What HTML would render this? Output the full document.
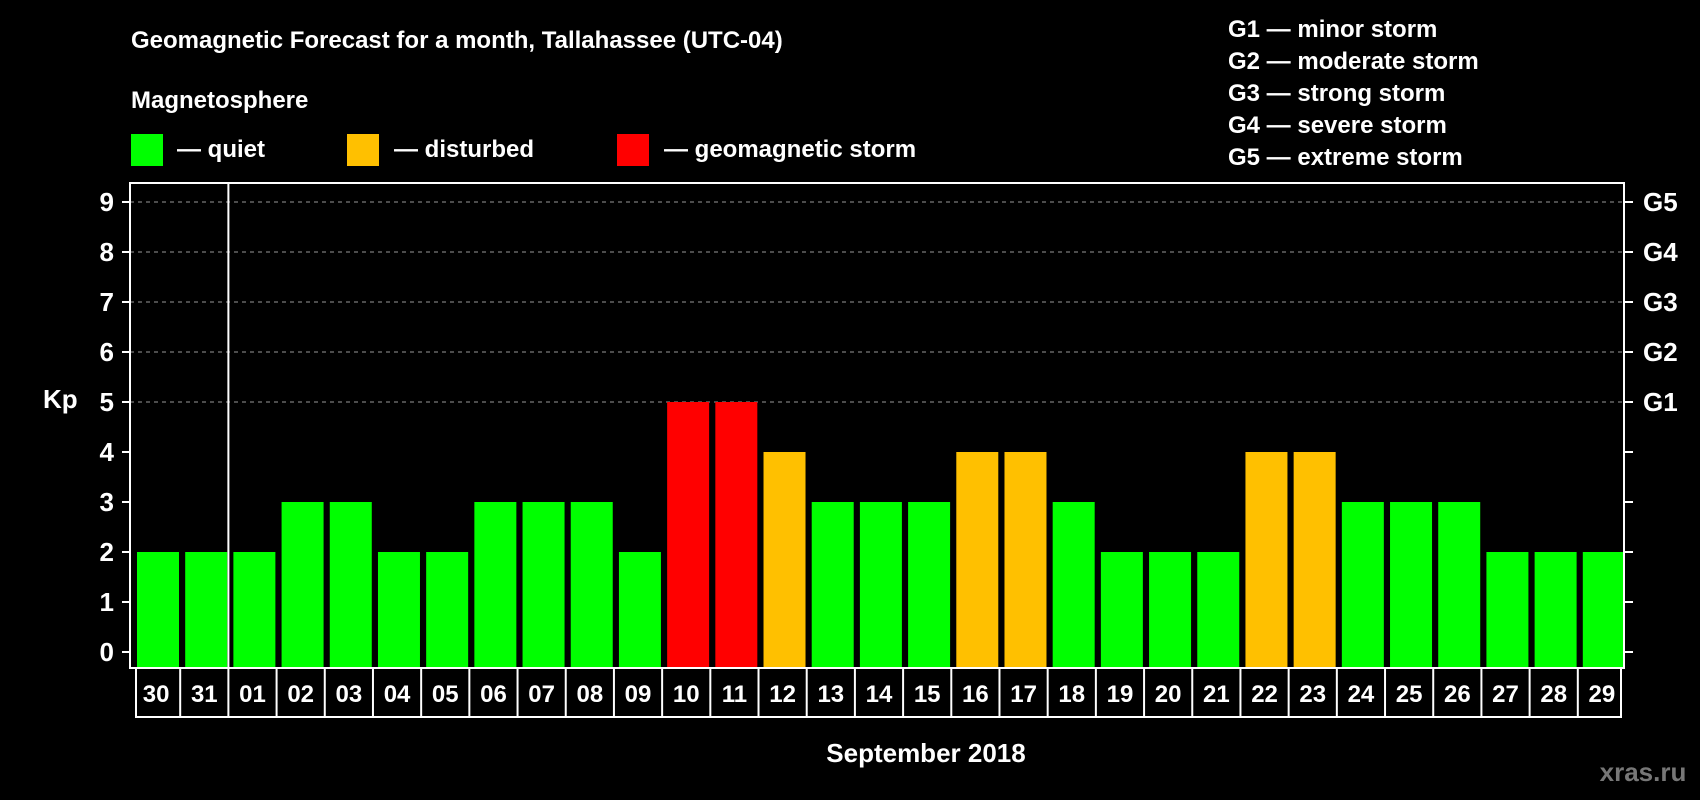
<!DOCTYPE html>
<html><head><meta charset="utf-8"><style>
html,body{margin:0;padding:0;background:#000;}
svg{display:block;font-family:"Liberation Sans",Arial,sans-serif;font-weight:bold;}
</style></head><body>
<svg id="chart" width="1700" height="800" viewBox="0 0 1700 800" xmlns="http://www.w3.org/2000/svg">
<rect width="1700" height="800" fill="#000"/>
<text x="131" y="48" fill="#fff" font-size="24">Geomagnetic Forecast for a month, Tallahassee (UTC-04)</text>
<text x="131" y="108" fill="#fff" font-size="24">Magnetosphere</text>
<g><rect x="131" y="134" width="32" height="32" fill="#00ff00"/><text x="177" y="157" fill="#fff" font-size="24">— quiet</text></g>
<g><rect x="347" y="134" width="32" height="32" fill="#ffc000"/><text x="394" y="157" fill="#fff" font-size="24">— disturbed</text></g>
<g><rect x="617" y="134" width="32" height="32" fill="#ff0000"/><text x="664" y="157" fill="#fff" font-size="24">— geomagnetic storm</text></g>
<g fill="#fff" font-size="24">
<text x="1228" y="37">G1 — minor storm</text>
<text x="1228" y="69">G2 — moderate storm</text>
<text x="1228" y="101">G3 — strong storm</text>
<text x="1228" y="133">G4 — severe storm</text>
<text x="1228" y="165">G5 — extreme storm</text>
</g>
<text x="43" y="408" fill="#fff" font-size="26">Kp</text>
<text x="926" y="762" fill="#fff" font-size="26" text-anchor="middle">September 2018</text>
<text x="1643" y="781" fill="#777" font-size="26" text-anchor="middle">xras.ru</text>
<g id="grid"></g><g id="bars"></g><g id="labels"></g><g id="frame"></g>
</svg>
<script>
const days=["30","31","01","02","03","04","05","06","07","08","09","10","11","12","13","14","15","16","17","18","19","20","21","22","23","24","25","26","27","28","29"];
const kp=[2,2,2,3,3,2,2,3,3,3,2,5,5,4,3,3,3,4,4,3,2,2,2,4,4,3,3,3,2,2,2];
const yTicks=[0,1,2,3,4,5,6,7,8,9];
const gLabels={5:"G1",6:"G2",7:"G3",8:"G4",9:"G5"};
const NS="http://www.w3.org/2000/svg";
const L=130,R=1624,T=183,B=668;
const n=days.length, slot=(R-L)/n;
const y=v=>652-v*50;
const x=i=>L+i*slot;
function mk(tag,attrs,parent){const e=document.createElementNS(NS,tag);for(const k in attrs)e.setAttribute(k,attrs[k]);parent.appendChild(e);return e;}
const grid=document.getElementById('grid'),bars=document.getElementById('bars'),labels=document.getElementById('labels'),frame=document.getElementById('frame');
yTicks.forEach(v=>{
  if(v>=5){const g=mk('line',{x1:L,x2:R,y1:y(v),y2:y(v),stroke:'#999','stroke-dasharray':'4,4','stroke-width':1},grid);
  
  }
  const t=mk('line',{x1:122,x2:L,y1:y(v),y2:y(v),stroke:'#fff','stroke-width':2},grid);
  
  
  const t2=mk('line',{x1:R,x2:1633,y1:y(v),y2:y(v),stroke:'#fff','stroke-width':2},grid);
  
  
  const lb=mk('text',{x:114,y:y(v)+9,fill:'#fff','font-size':26,'text-anchor':'end'},grid);lb.textContent=v;
  
  
  if(gLabels[v]){const gl=mk('text',{x:1643,y:y(v)+9,fill:'#fff','font-size':26},grid);gl.textContent=gLabels[v];
  
  }
});
kp.forEach((v,i)=>{
  const c=v>=5?'#ff0000':(v>=4?'#ffc000':'#00ff00');
  const r=mk('rect',{x:x(i)+7,y:y(v),width:42,height:y(0)-y(v)+(B-1-y(0)),fill:c},bars);
  
  
  const lb=mk('text',{x:x(i)+slot/2+2,y:702,fill:'#fff','font-size':24,'text-anchor':'middle'},labels);lb.textContent=days[i];
  
  
  if(i>0){const s=mk('line',{x1:x(i)+2,x2:x(i)+2,y1:B,y2:717,stroke:'#fff','stroke-width':2},labels);
  
  }
});
const f=mk('rect',{x:L,y:T,width:R-L,height:B-T,fill:'none',stroke:'#fff','stroke-width':2},frame);


const lbx=mk('rect',{x:136,y:B,width:R-136-3,height:717-B,fill:'none',stroke:'#fff','stroke-width':2},frame);


const sep=mk('line',{x1:x(2)+2,x2:x(2)+2,y1:T,y2:B,stroke:'#fff','stroke-width':2},frame);


</script>
</body></html>
